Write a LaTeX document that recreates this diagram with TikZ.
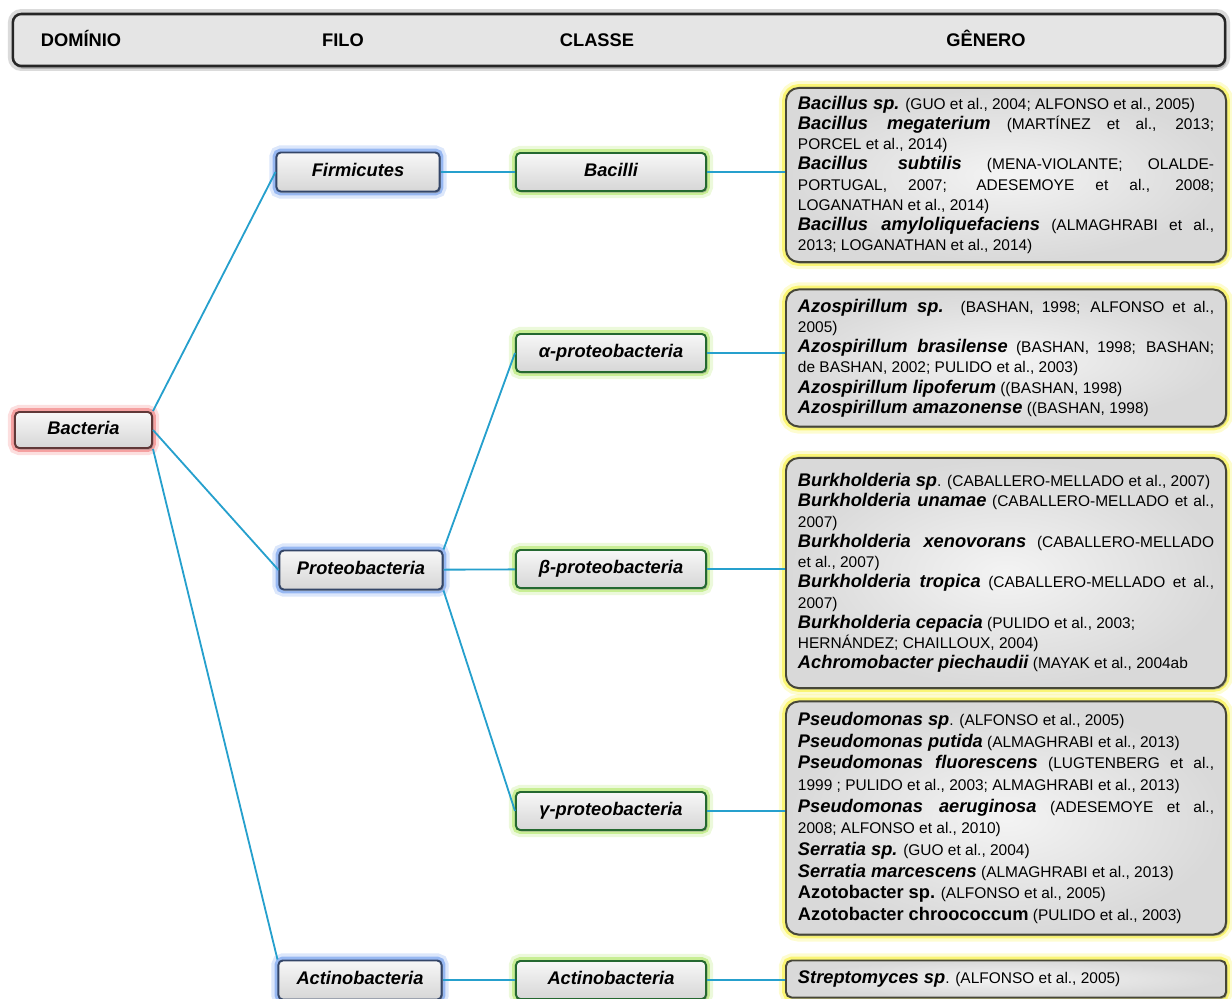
\documentclass[tikz,border=0pt]{standalone}
\usepackage{fontspec}
\setmainfont{Liberation Sans}
\usepackage{xcolor}
\usepackage{tikz}
\usetikzlibrary{positioning, shadows}

\definecolor{lnkc}{RGB}{38,160,205}
\definecolor{filoedge}{RGB}{52,70,104}
\definecolor{filoglow}{RGB}{95,145,235}
\definecolor{clsedge}{RGB}{36,104,48}
\definecolor{clsglow}{RGB}{170,228,90}
\definecolor{domedge}{RGB}{96,56,56}
\definecolor{domglow}{RGB}{240,110,110}
\definecolor{genedge}{RGB}{70,70,56}
\definecolor{genglow}{RGB}{248,240,40}

\setlength{\parindent}{0pt}
\exhyphenpenalty=10000
\hyphenpenalty=10000

\newcommand{\gname}[1]{{\fontsize{13}{14.4}\selectfont\bfseries\itshape #1}}
\newcommand{\gup}[1]{{\fontsize{13}{14.4}\selectfont\bfseries #1}}
\newcommand{\cit}[1]{{\fontsize{11}{14.4}\selectfont #1}}

\begin{document}
\begin{tikzpicture}[x=0.025cm, y=-0.025cm,
  glowbox/.style 2 args={draw=#1, line width=1.4pt, rounded corners=3pt,
              preaction={draw=#2, line width=10pt, opacity=.22},
              preaction={draw=#2, line width=5.5pt, opacity=.55},
              drop shadow={shadow xshift=.9pt, shadow yshift=-1.1pt, opacity=.55},
              top color=gray!6, bottom color=gray!32},
  tax/.style={font=\fontsize{13}{15}\selectfont\bfseries\itshape, inner sep=0pt,
              text height=9.5pt, text depth=2.7pt},
  dom/.style={tax, glowbox={domedge}{domglow}, minimum width=3.425cm, minimum height=0.9cm},
  filo/.style={tax, glowbox={filoedge}{filoglow}, minimum width=4.075cm, minimum height=0.975cm},
  cls/.style={tax, glowbox={clsedge}{clsglow}, minimum width=4.75cm, minimum height=0.95cm},
  gen/.style={glowbox={genedge}{genglow}, rounded corners=9pt, inner color=gray!9, outer color=gray!30,
              anchor=west, text width=10.4cm, inner xsep=0.3cm, inner ysep=0pt, align=justify,
              font=\fontsize{11}{14.4}\selectfont},
  hdrbox/.style={draw=black!85, line width=1.8pt, rounded corners=6pt, fill=gray!20,
              preaction={draw=gray!70, line width=7pt, opacity=.4},
              drop shadow={shadow xshift=1pt, shadow yshift=-2pt, opacity=.45},
              minimum width=30.3cm, minimum height=1.3cm},
  hdr/.style={font=\fontsize{13}{15}\selectfont\bfseries, anchor=base},
  con/.style={draw=lnkc, line width=1.3pt}
]
\useasboundingbox (0,0) rectangle (1232,999);

\node[hdrbox] (head) at (619,40) {};
\node[hdr] (hdom) at (81,46.5) {DOMÍNIO};
\node[hdr] (hfilo) at (343,46.5) {FILO};
\node[hdr] (hcls) at (597,46.5) {CLASSE};
\node[hdr] (hgen) at (986,46.5) {GÊNERO};

\node[dom] (bact) at (83.5,430) {Bacteria};

\node[filo] (firm) at (358,172) {Firmicutes};
\node[filo] (prot) at (361,570) {Proteobacteria};
\node[filo] (actf) at (360,980) {Actinobacteria};

\node[cls] (bacilli) at (611,172) {Bacilli};
\node[cls] (alpha) at (611,353) {α-proteobacteria};
\node[cls] (beta) at (611,569) {β-proteobacteria};
\node[cls] (gamma) at (611,811) {γ-proteobacteria};
\node[cls] (actc) at (611,980) {Actinobacteria};

\node[gen, minimum height=4.35cm] (gbac) at (785,175) {%
\gname{Bacillus sp.} \cit{(GUO et al., 2004; ALFONSO et al., 2005)}\par
\gname{Bacillus megaterium} \cit{(MARTÍNEZ et al., 2013;\linebreak PORCEL et al., 2014)}\par
\gname{Bacillus subtilis} \cit{(MENA-VIOLANTE; OLALDE-\linebreak PORTUGAL, 2007; ADESEMOYE et al., 2008;\linebreak LOGANATHAN et al., 2014)}\par
\gname{Bacillus amyloliquefaciens} \cit{(ALMAGHRABI et al.,\linebreak 2013; LOGANATHAN et al., 2014)}};

\node[gen, minimum height=3.425cm] (gazo) at (785,358) {%
\gname{Azospirillum sp.} \cit{(BASHAN, 1998; ALFONSO et al.,\linebreak 2005)}\par
\gname{Azospirillum brasilense} \cit{(BASHAN, 1998; BASHAN;\linebreak de BASHAN, 2002; PULIDO et al., 2003)}\par
\gname{Azospirillum lipoferum} \cit{((BASHAN, 1998)}\par
\gname{Azospirillum amazonense} \cit{((BASHAN, 1998)}};

\node[gen, minimum height=5.75cm] (gbur) at (785,573) {%
\gname{Burkholderia sp}\cit{. (CABALLERO-MELLADO et al., 2007)}\par
\gname{Burkholderia unamae} \cit{(CABALLERO-MELLADO et al.,\linebreak 2007)}\par
\gname{Burkholderia xenovorans} \cit{(CABALLERO-MELLADO\linebreak et al., 2007)}\par
\gname{Burkholderia tropica} \cit{(CABALLERO-MELLADO et al.,\linebreak 2007)}\par
\gname{Burkholderia cepacia} \cit{(PULIDO et al., 2003;\newline HERNÁNDEZ; CHAILLOUX, 2004)}\par
\gname{Achromobacter piechaudii} \cit{(MAYAK et al., 2004ab}};

\node[gen, minimum height=5.825cm, font=\fontsize{11}{15.4}\selectfont] (gpse) at (785,818) {%
\gname{Pseudomonas sp}\cit{. (ALFONSO et al., 2005)}\par
\gname{Pseudomonas putida} \cit{(ALMAGHRABI et al., 2013)}\par
\gname{Pseudomonas fluorescens} \cit{(LUGTENBERG et al.,\linebreak 1999 ; PULIDO et al., 2003; ALMAGHRABI et al., 2013)}\par
\gname{Pseudomonas aeruginosa} \cit{(ADESEMOYE et al.,\linebreak 2008; ALFONSO et al., 2010)}\par
\gname{Serratia sp.} \cit{(GUO et al., 2004)}\par
\gname{Serratia marcescens} \cit{(ALMAGHRABI et al., 2013)}\par
\gup{Azotobacter sp.} \cit{(ALFONSO et al., 2005)}\par
\gup{Azotobacter chroococcum} \cit{(PULIDO et al., 2003)}};

\node[gen, minimum height=0.925cm, rounded corners=4pt] (gstr) at (785,979) {%
\gname{Streptomyces sp}\cit{. (ALFONSO et al., 2005)}};

\draw[con] (bact.north east) -- (firm.west);
\draw[con] (bact.east) -- (prot.west);
\draw[con] (bact.south east) -- (actf.north west);
\draw[con] (firm) -- (bacilli);
\draw[con] (prot.north east) -- (alpha.west);
\draw[con] (prot) -- (beta);
\draw[con] (prot.south east) -- (gamma.west);
\draw[con] (actf) -- (actc);
\draw[con] (bacilli.east) -- (bacilli.east -| gbac.west);
\draw[con] (alpha.east) -- (alpha.east -| gazo.west);
\draw[con] (beta.east) -- (beta.east -| gbur.west);
\draw[con] (gamma.east) -- (gamma.east -| gpse.west);
\draw[con] (actc.east) -- (actc.east -| gstr.west);
\end{tikzpicture}
\end{document}
